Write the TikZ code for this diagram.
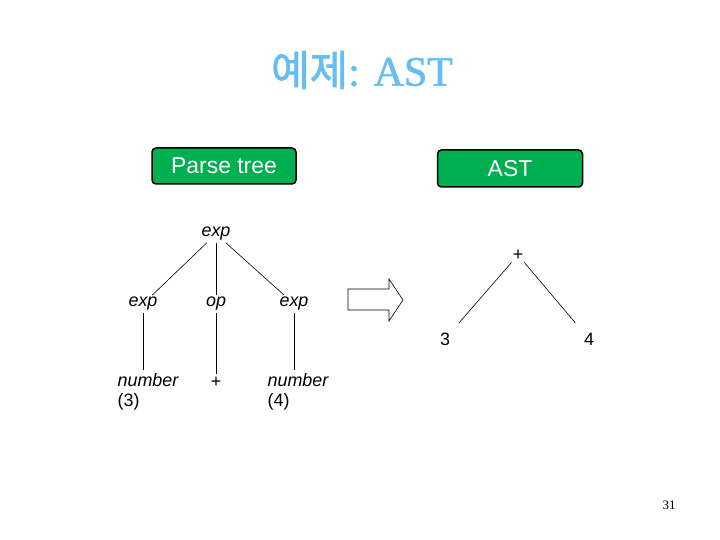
\documentclass[tikz,border=0pt]{standalone}
\usepackage{fontspec}
\setmainfont{Liberation Sans}
\newfontfamily\krfont[FakeBold=1.5]{Noto Sans CJK KR}
\newfontfamily\titleserif[FakeBold=1.5]{Liberation Serif}
\newfontfamily\serifnum{Liberation Serif}
\usepackage{tikz}
\usetikzlibrary{calc}
\definecolor{titleblue}{RGB}{102,190,240}
\definecolor{boxgreen}{RGB}{0,176,80}
\tikzset{
	headbox/.style={draw=black, line width=1.5bp, fill=boxgreen, rounded corners=4bp, text=white, font=\fontsize{23}{26}\selectfont, inner sep=0pt},
	treelbl/.style={font=\fontsize{18}{20}\selectfont, inner sep=2bp},
	edge/.style={line width=0.6bp}
}

\begin{document}
\begin{tikzpicture}[x=1bp, y=-1bp]
		%%%%% START %%%%%
		\useasboundingbox (0, 0) rectangle (720, 540);
		
		\node[text=titleblue, font=\fontsize{42}{46}\selectfont] (title) at (362, 70) {{\krfont 예제}\titleserif: AST};
		
		\node[headbox, minimum width=144bp, minimum height=36bp] (ptbox) at (224, 166) {Parse tree};
		\node[headbox, minimum width=145bp, minimum height=37bp] (astbox) at (510, 168.5) {AST};
		
		% parse tree
		\node[treelbl] (root) at (216, 234) {\itshape exp};
		\node[treelbl] (expL) at (143, 304) {\itshape exp};
		\node[treelbl] (opM) at (216, 304) {\itshape op};
		\node[treelbl] (expR) at (294, 304) {\itshape exp};
		\node[treelbl, align=left, inner sep=0pt] (numL) at (148, 392) {\itshape number\\(3)};
		\node[treelbl, inner sep=0pt] (plusM) at (216, 382) {+};
		\node[treelbl, align=left, inner sep=0pt] (numR) at (298, 392) {\itshape number\\(4)};
		
		\draw[edge] (root) -- (expL);
		\draw[edge] (root) -- (opM);
		\draw[edge] (root) -- (expR);
		\draw[edge] (expL) -- ($(expL |- numL.north)+(0,-3)$);
		\draw[edge] (opM) -- ($(opM |- plusM.north)+(0,-3)$);
		\draw[edge] (expR) -- ($(expR |- numR.north)+(0,-3)$);
		
		% block arrow
		\draw[edge] (348, 289) -- (389, 289) -- (389, 279) -- (403, 300) -- (389, 321) -- (389, 310) -- (348, 310) -- cycle;
		
		% AST
		\node[treelbl] (astPlus) at (518, 255) {+};
		\node[treelbl] (astThree) at (445, 339) {3};
		\node[treelbl] (astFour) at (589, 339) {4};
		\draw[edge, shorten >=10bp] (astPlus) -- (astThree);
		\draw[edge, shorten >=10bp] (astPlus) -- (astFour);
		
		\node[font=\serifnum\fontsize{13}{15}\selectfont] (pagenum) at (669, 505) {31};
		%%%%% END %%%%%
\end{tikzpicture}
\end{document}
